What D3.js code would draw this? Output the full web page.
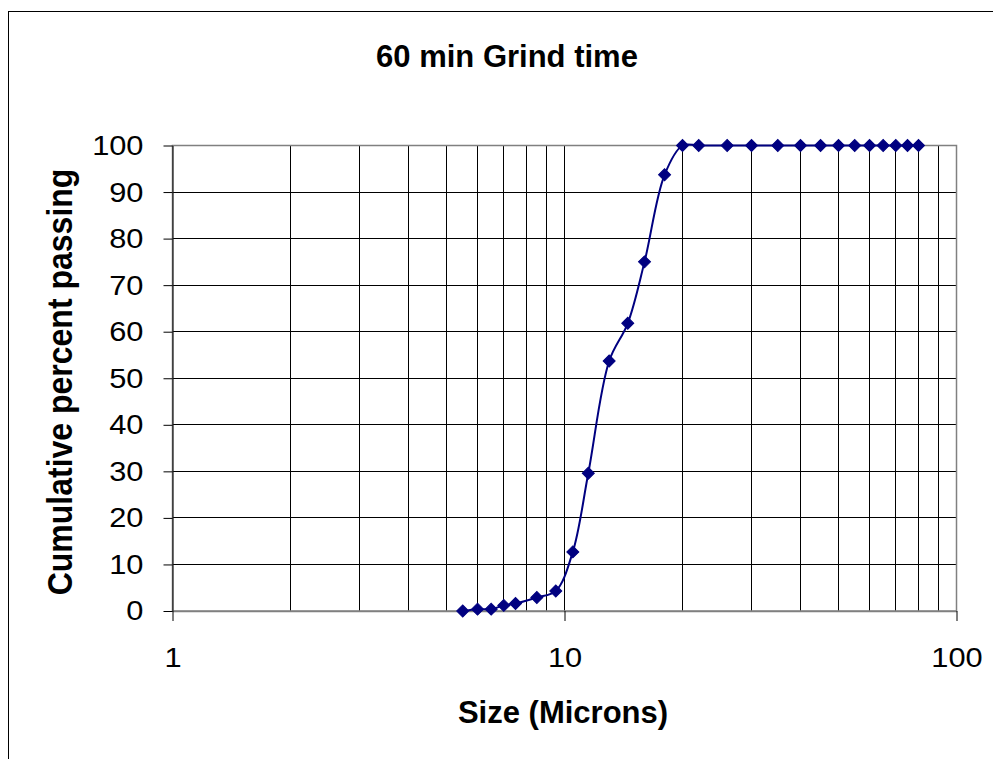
<!DOCTYPE html>
<html>
<head>
<meta charset="utf-8">
<script src="https://cdn.jsdelivr.net/npm/d3@7"></script>
<style>
  body { margin: 0; background: #fff; }
  svg text { font-family: "Liberation Sans", Arial, sans-serif; fill: #000; }
</style>
</head>
<body>
<div id="container"></div>
<script>
/* DATA */
const sizes = [5.5, 6, 6.5, 7, 7.5, 8.5, 9.5, 10.5, 11.5, 13, 14.5, 16, 18, 20, 22, 26, 30, 35, 40, 45, 50, 55, 60, 65, 70, 75, 80];
const passing = [0, 0.4, 0.4, 1.2, 1.6, 2.9, 4.3, 12.7, 29.6, 53.7, 61.8, 75.0, 93.7, 100, 100, 100, 100, 100, 100, 100, 100, 100, 100, 100, 100, 100, 100];
const yTicks = [0, 10, 20, 30, 40, 50, 60, 70, 80, 90, 100];
const xTicks = [1, 10, 100];
const title = "60 min Grind time";
const xTitle = "Size (Microns)";
const yTitle = "Cumulative percent passing";

/* CONSTANTS */
const width = 993, height = 759;
const plot = {left: 172.5, right: 956.5, top: 145.5, bottom: 611};
const lineColor = "#000080";

const data = sizes.map((s, i) => ({size: s, pct: passing[i]}));

/* SCALES */
const xScale = d3.scaleLog()
  .domain([1, 100])
  .range([plot.left, plot.right]);

const yScale = d3.scaleLinear()
  .domain([0, 100])
  .range([plot.bottom, plot.top]);

const svg = d3.select("#container")
  .append("svg")
  .attr("width", width)
  .attr("height", height);

// outer chart border
svg.append("rect")
  .attr("x", 8.5).attr("y", 11.5)
  .attr("width", 1000).attr("height", 800)
  .attr("fill", "none")
  .attr("stroke", "#000")
  .attr("stroke-width", 1);

// gridlines
svg.append("g")
  .selectAll("line")
  .data(yTicks)
  .join("line")
  .attr("x1", plot.left).attr("x2", plot.right)
  .attr("y1", d => yScale(d)).attr("y2", d => yScale(d))
  .attr("stroke", "#000")
  .attr("shape-rendering", "crispEdges");

svg.append("g")
  .selectAll("line")
  .data(xScale.ticks())
  .join("line")
  .attr("x1", d => xScale(d)).attr("x2", d => xScale(d))
  .attr("y1", plot.top).attr("y2", plot.bottom)
  .attr("stroke", "#000")
  .attr("shape-rendering", "crispEdges");

// plot area border (grey)
svg.append("rect")
  .attr("x", plot.left).attr("y", plot.top)
  .attr("width", plot.right - plot.left)
  .attr("height", plot.bottom - plot.top)
  .attr("fill", "none")
  .attr("stroke", "#808080")
  .attr("stroke-width", 1.5);

// Axes
const yAxis = d3.axisLeft(yScale)
  .tickValues(yTicks)
  .tickSize(9)
  .tickSizeOuter(0)
  .tickPadding(20);

const yG = svg.append("g")
  .attr("transform", `translate(${plot.left},0)`)
  .call(yAxis);
yG.select(".domain").attr("stroke", "#000");
yG.selectAll("line").attr("stroke", "#000");
yG.selectAll("text")
  .attr("font-size", 28)
  .attr("font-family", "Liberation Sans, Arial, sans-serif")
  .attr("transform", "translate(-29,0) scale(1.1,1)")
  .attr("x", 0);

const xAxis = d3.axisBottom(xScale)
  .tickValues(xTicks)
  .tickFormat(d3.format("d"))
  .tickSize(10)
  .tickSizeOuter(0)
  .tickPadding(26);

const xG = svg.append("g")
  .attr("transform", `translate(0,${plot.bottom})`)
  .call(xAxis);
xG.select(".domain").attr("stroke", "#808080").attr("stroke-width", 1.5);
xG.selectAll("line").attr("stroke", "#000");
xG.selectAll(".tick text")
  .attr("font-size", 28)
  .attr("font-family", "Liberation Sans, Arial, sans-serif")
  .attr("transform", "scale(1.1,1)")
  .attr("x", 0);

// line
const line = d3.line()
  .x(d => xScale(d.size))
  .y(d => yScale(d.pct))
  .curve(d3.curveCatmullRom.alpha(0.5));

svg.append("path")
  .datum(data)
  .attr("d", line)
  .attr("fill", "none")
  .attr("stroke", lineColor)
  .attr("stroke-width", 2);

// diamond markers
svg.append("g")
  .selectAll("path")
  .data(data)
  .join("path")
  .attr("d", d3.symbol().type(d3.symbolSquare).size(72))
  .attr("transform", d => `translate(${xScale(d.size)},${yScale(d.pct)}) rotate(45)`)
  .attr("fill", lineColor)
  .attr("stroke", lineColor)
  .attr("stroke-width", 1);

// Title
svg.append("text")
  .attr("x", 507)
  .attr("y", 66.5)
  .attr("text-anchor", "middle")
  .attr("font-weight", "bold")
  .attr("font-size", 31)
  .text(title);

// X label
svg.append("text")
  .attr("x", 563)
  .attr("y", 722.5)
  .attr("text-anchor", "middle")
  .attr("font-weight", "bold")
  .attr("font-size", 31)
  .text(xTitle);

// Y label
svg.append("g")
  .attr("transform", "translate(72,382) scale(1.12,1)")
  .append("text")
  .attr("transform", "rotate(-90)")
  .attr("text-anchor", "middle")
  .attr("font-weight", "bold")
  .attr("font-size", 32)
  .text(yTitle);
</script>
</body>
</html>
